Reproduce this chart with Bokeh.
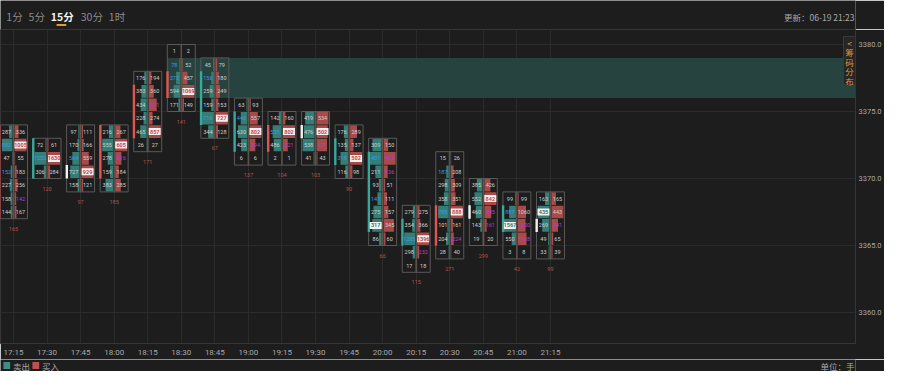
from bokeh.plotting import figure
from bokeh.layouts import column
from bokeh.models import ColumnDataSource, Range1d, FixedTicker, BoxAnnotation, PrintfTickFormatter
from bokeh.core.properties import value
from bokeh.embed import file_html
from bokeh.resources import INLINE

# ---------------- data ----------------
times = ["17:15", "17:30", "17:45", "18:00", "18:15", "18:30", "18:45", "19:00", "19:15",
         "19:30", "19:45", "20:00", "20:15", "20:30", "20:45", "21:00", "21:15"]
highs = [3374, 3373, 3374, 3374, 3378, 3380, 3379, 3376, 3375, 3375, 3374, 3373, 3368, 3372, 3370, 3369, 3369]
sell_vol = [
    [287, 882, 47, 152, 227, 158, 144],
    [72, 1555, 306],
    [97, 170, 564, 727, 158],
    [216, 555, 278, 159, 383],
    [176, 383, 434, 228, 465, 26],
    [1, 78, 373, 594, 171],
    [45, 156, 259, 159, 716, 344],
    [63, 446, 630, 423, 6],
    [142, 555, 486, 2],
    [419, 476, 538, 41],
    [176, 135, 318, 116],
    [309, 401, 211, 93, 141, 275, 317, 86],
    [279, 354, 1285, 298, 17],
    [15, 187, 298, 358, 788, 101, 204, 28],
    [385, 552, 460, 143, 19],
    [99, 887, 1567, 550, 3],
    [163, 435, 269, 49, 33],
]
buy_vol = [
    [336, 1005, 55, 183, 256, 142, 167],
    [61, 1630, 284],
    [111, 166, 559, 929, 121],
    [267, 605, 316, 184, 285],
    [194, 360, 571, 274, 857, 27],
    [2, 52, 457, 1069, 149],
    [79, 180, 249, 153, 727, 128],
    [93, 557, 802, 394, 6],
    [160, 802, 321, 1],
    [534, 502, 471, 43],
    [289, 137, 502, 98],
    [150, 402, 136, 51, 111, 157, 345, 60],
    [275, 366, 1396, 232, 18],
    [26, 208, 309, 351, 888, 161, 224, 40],
    [426, 842, 485, 161, 20],
    [99, 1060, 1000, 1128, 8],
    [165, 443, 241, 65, 39],
]
sell_imb_rows = [[1, 3], [1], [2], [], [], [1, 2], [1, 4], [1], [1], [], [2], [1, 4], [2], [1, 4], [], [1], []]
buy_imb_rows = [[5], [], [], [2], [2], [], [], [3], [2], [2], [], [1, 2], [3], [6], [2, 3], [2, 3], [2]]
max_side = ["buy", "buy", "buy", "buy", "buy", "buy", "buy", "buy", "buy", "buy", "buy",
            "sell", "buy", "buy", "buy", "sell", "sell"]
max_row = [1, 1, 3, 1, 4, 3, 4, 2, 1, 1, 2, 6, 2, 4, 1, 2, 1]
body_top = [3374, 3373, 3371, 3374, 3377, 3378, 3378, 3375, 3374, 3374, 3373, 3372, 3367, 3368, 3368, 3368, 3367]
body_bot = [3367, 3370, 3370, 3370, 3373, 3376, 3374, 3372, 3372, 3373, 3371, 3366, 3365, 3365, 3367, 3366, 3366]
body_dir = ["up", "down", "flat", "up", "up", "up", "down", "down", "up", "flat", "down",
            "down", "down", "up", "flat", "down", "flat"]
deltas = [165, 120, 97, 185, 171, 141, 67, 137, 104, 103, 90, 66, 115, 271, 299, 42, 99]
band_start = 5
band_lo, band_hi = 3376, 3379
y_ticks = [3360, 3365, 3370, 3375, 3380]
tabs = ["1分", "5分", "15分", "30分", "1时"]
active_tab = 2
update_text = "更新：06-19 21:23"
unit_text = "单位：手"
legend_names = ["卖出", "买入"]
side_tab = "<筹码分布"

# ---------------- style ----------------
BG = "#1d1d1d"
GRID = "#2b2b2b"
TEAL = "#347e77"
RED = "#a64b49"
BODY_COL = {"up": "#e0564f", "down": "#3aa899", "flat": "#f2f2f2"}
TXT = "#cfcfcf"
BLUE = "#3d9be6"
PURPLE = "#b53cd6"
NUMFONT = "Roboto"
CJK = "Noto Sans CJK SC"
W = 884
HEAD_H, MAIN_H, FOOT_H = 29, 330, 12

PX_X = 33.6      # pixels per candle slot
PX_Y = 13.4      # pixels per price unit
FRAME_W, FRAME_H = 856, 314
u = 1.0 / PX_X
v = 1.0 / PX_Y
x_start = -13 * u
y_top = 3380 + 15 * v
y_bot = y_top - FRAME_H * v


def strip(h):
    f = figure(width=W, height=h, output_backend="svg", toolbar_location=None,
               x_range=Range1d(0, W), y_range=Range1d(h, 0), min_border=0,
               x_axis_location=None, y_axis_location=None,
               background_fill_color=BG, border_fill_color=BG, outline_line_color=None)
    f.grid.visible = False
    return f


# ---------------- header ----------------
head = strip(HEAD_H)
tab_x = [6, 29, 52, 83, 112]
tab_col = ["#f2f2f2" if k == active_tab else "#8c8c8c" for k in range(len(tabs))]
tab_style = ["bold" if k == active_tab else "normal" for k in range(len(tabs))]
head.text(x=tab_x, y=[16] * len(tabs), text=tabs, text_color=tab_col, text_font=value(CJK),
          text_font_size="10.5px", text_font_style=tab_style, text_baseline="middle")
head.quad(left=[58], right=[68], top=[23.5], bottom=[25.5], fill_color="#e39b2d", line_color=None)
head.text(x=[883], y=[16], text=[update_text], text_color="#a8a8a8", text_font=value(CJK),
          text_font_size="8.5px", text_align="right", text_baseline="middle")

# ---------------- main ----------------
p = figure(width=W, height=MAIN_H, output_backend="svg", toolbar_location=None,
           x_range=Range1d(x_start, x_start + FRAME_W * u), y_range=Range1d(y_bot, y_top),
           y_axis_location="right", min_border_left=0, min_border_right=W - FRAME_W,
           min_border_top=0, min_border_bottom=MAIN_H - FRAME_H,
           background_fill_color=BG, border_fill_color=BG, outline_line_color="#363636")

p.xgrid.ticker = FixedTicker(ticks=list(range(len(times))))
p.ygrid.ticker = FixedTicker(ticks=y_ticks)
p.xgrid.grid_line_color = GRID
p.ygrid.grid_line_color = GRID

p.xaxis.ticker = FixedTicker(ticks=list(range(len(times))))
p.xaxis.major_label_overrides = {i: t for i, t in enumerate(times)}
p.yaxis.ticker = FixedTicker(ticks=y_ticks)
p.yaxis.formatter = PrintfTickFormatter(format="%.1f")
for ax in (p.xaxis[0], p.yaxis[0]):
    ax.major_label_text_color = "#a8a8a8"
    ax.major_label_text_font = NUMFONT
    ax.major_tick_line_color = None
    ax.minor_tick_line_color = None
    ax.major_tick_out = 0
    ax.major_tick_in = 0
    ax.minor_tick_out = 0
    ax.minor_tick_in = 0
    ax.axis_line_color = "#363636"
p.xaxis.major_label_text_font_size = "8px"
p.xaxis.major_label_standoff = 4
p.yaxis.major_label_text_font_size = "7.5px"
p.yaxis.major_label_standoff = 3

# value-area band
p.add_layout(BoxAnnotation(left=band_start - 14 * u, bottom=band_lo, top=band_hi,
                           fill_color="#27433f", fill_alpha=1.0, line_color=None, level="underlay"))

# ---------------- build footprint cells ----------------
bars = dict(l=[], r=[], b=[], t=[], c=[])
txt = dict(x=[], y=[], s=[], c=[])
hl = dict(x=[], y=[])
hl_txt = dict(x=[], y=[], s=[], c=[])
boxes = dict(l=[], r=[], b=[], t=[])
wick = dict(x0=[], y0=[], x1=[], y1=[])
bodies = dict(l=[], r=[], b=[], t=[], c=[])
dl = dict(x=[], y=[], s=[], c=[])

for i, (hi, sv, bv) in enumerate(zip(highs, sell_vol, buy_vol)):
    n = len(sv)
    m = max(max(sv), max(bv))
    boxes["l"].append(i - 14 * u); boxes["r"].append(i + 14 * u)
    boxes["t"].append(hi); boxes["b"].append(hi - n)
    wick["x0"].append(i); wick["x1"].append(i); wick["y0"].append(hi); wick["y1"].append(hi - n)
    for r in range(n):
        top = hi - r
        mid = top - 0.5
        fs, fb = sv[r] / m, bv[r] / m
        bars["l"].append(i - (1 + 12 * fs) * u); bars["r"].append(i - 1 * u)
        bars["b"].append(top - 1 + 0.03); bars["t"].append(top - 0.03); bars["c"].append(TEAL)
        bars["l"].append(i + 1 * u); bars["r"].append(i + (1 + 12 * fb) * u)
        bars["b"].append(top - 1 + 0.03); bars["t"].append(top - 0.03); bars["c"].append(RED)
        for side, val, xo in (("sell", sv[r], -7 * u), ("buy", bv[r], 7 * u)):
            if max_side[i] == side and max_row[i] == r:
                hl["x"].append(i + xo); hl["y"].append(mid)
                hl_txt["x"].append(i + xo); hl_txt["y"].append(mid); hl_txt["s"].append(str(val))
                hl_txt["c"].append("#2f7f78" if side == "sell" else "#c8454a")
                continue
            col = TXT
            if side == "sell" and r in sell_imb_rows[i]:
                col = BLUE
            if side == "buy" and r in buy_imb_rows[i]:
                col = PURPLE
            txt["x"].append(i + xo); txt["y"].append(mid); txt["s"].append(str(val)); txt["c"].append(col)
    bodies["l"].append(i - 15 * u); bodies["r"].append(i - 12.6 * u)
    bodies["b"].append(body_bot[i]); bodies["t"].append(body_top[i]); bodies["c"].append(BODY_COL[body_dir[i]])
    dl["x"].append(i); dl["y"].append(hi - n - 0.75); dl["s"].append(str(deltas[i]))
    dl["c"].append("#b5514e")

p.quad(left="l", right="r", bottom="b", top="t", fill_color="c", line_color=None,
       source=ColumnDataSource(bars))
p.segment(x0="x0", y0="y0", x1="x1", y1="y1", line_color="#5e534b", line_width=1.5,
          source=ColumnDataSource(wick))
p.quad(left="l", right="r", bottom="b", top="t", fill_color=None, line_color="#595959", line_width=1,
       source=ColumnDataSource(boxes))
p.quad(left="l", right="r", bottom="b", top="t", fill_color="c", line_color=None,
       source=ColumnDataSource(bodies))
p.text(x="x", y="y", text="s", text_color="c", text_font=value(NUMFONT), text_font_size="5.5px",
       text_align="center", text_baseline="middle", source=ColumnDataSource(txt))
p.rect(x="x", y="y", width=12 * u, height=7 * v, fill_color="#f4f0f0", line_color=None,
       source=ColumnDataSource(hl))
p.text(x="x", y="y", text="s", text_color="c", text_font=value(NUMFONT), text_font_size="5.5px",
       text_font_style="bold", text_align="center", text_baseline="middle", source=ColumnDataSource(hl_txt))
p.text(x="x", y="y", text="s", text_color="c", text_font=value(NUMFONT), text_font_size="5.5px",
       text_align="center", text_baseline="middle", source=ColumnDataSource(dl))

# side tab (pixel placement converted to the frame's scales)
def px2x(px):
    return x_start + px * u


def py2y(py):
    return y_top - (py - HEAD_H) * v


p.quad(left=[px2x(844)], right=[px2x(856)], top=[py2y(36)], bottom=[py2y(84)],
       fill_color="#262626", line_color="#3a3a3a")
p.text(x=[px2x(850)] * len(side_tab), y=[py2y(42 + 9.5 * k) for k in range(len(side_tab))],
       text=list(side_tab), text_color="#d9993a", text_font=value(CJK), text_font_size="8.5px",
       text_align="center", text_baseline="middle")

# ---------------- footer ----------------
foot = strip(FOOT_H)
leg_cols = ["#3f8e86", "#c0504f"]
leg_x = [3, 33]
foot.quad(left=leg_x, right=[x + 7 for x in leg_x], top=[2.5, 2.5], bottom=[9.5, 9.5],
          fill_color=leg_cols, line_color=None)
foot.text(x=[x + 10 for x in leg_x], y=[6, 6], text=legend_names, text_color="#a8a8a8",
          text_font=value(CJK), text_font_size="8.5px", text_baseline="middle")
foot.text(x=[883], y=[6], text=[unit_text], text_color="#a8a8a8", text_font=value(CJK),
          text_font_size="8.5px", text_align="right", text_baseline="middle")

layout = column(head, p, foot, spacing=0)
open("out.html", "w").write(file_html(layout, INLINE))
